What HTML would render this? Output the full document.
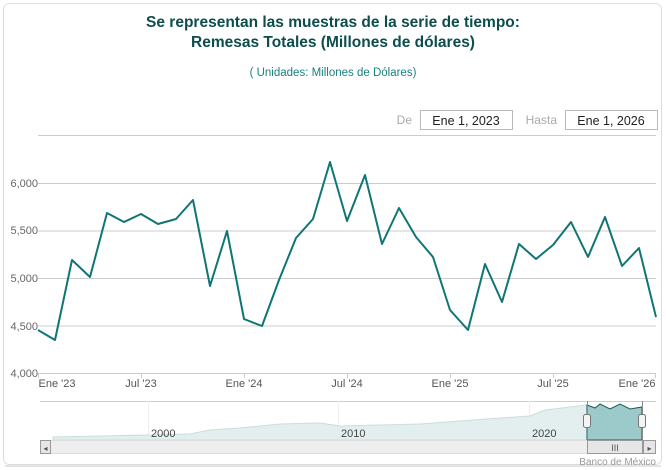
<!DOCTYPE html>
<html><head><meta charset="utf-8"><style>
body{margin:0;background:#fff;}
svg{display:block;font-family:"Liberation Sans","DejaVu Sans",sans-serif;}
</style></head><body>
<svg width="666" height="470" viewBox="0 0 666 470">
<rect x="3.5" y="3.5" width="658" height="461" rx="6" fill="#fff" stroke="#ddd"/>
<rect x="5" y="465" width="656" height="2" fill="#e4e4e4"/>
<text x="333" y="27" text-anchor="middle" font-size="15.5" font-weight="bold" fill="#0d4d4d">Se representan las muestras de la serie de tiempo:</text>
<text x="333" y="47" text-anchor="middle" font-size="15.5" font-weight="bold" fill="#0d4d4d">Remesas Totales (Millones de dólares)</text>
<text x="333" y="76" text-anchor="middle" font-size="11.5" fill="#1a8080">( Unidades:  Millones de Dólares)</text>
<text x="412" y="124" text-anchor="end" font-size="12" fill="#aaa">De</text>
<rect x="420.5" y="110.5" width="92" height="19" fill="#fff" stroke="#bbb"/>
<text x="466" y="125" text-anchor="middle" font-size="12.5" fill="#222">Ene 1, 2023</text>
<text x="557" y="124" text-anchor="end" font-size="12" fill="#aaa">Hasta</text>
<rect x="565.5" y="110.5" width="92" height="19" fill="#fff" stroke="#bbb"/>
<text x="611" y="125" text-anchor="middle" font-size="12.5" fill="#222">Ene 1, 2026</text>
<g stroke="#ccc" stroke-width="1">
<line x1="38" y1="135.5" x2="656" y2="135.5"/>
<line x1="38" y1="183.5" x2="656" y2="183.5"/>
<line x1="38" y1="231" x2="656" y2="231"/>
<line x1="38" y1="278.5" x2="656" y2="278.5"/>
<line x1="38" y1="326" x2="656" y2="326"/>
<line x1="38" y1="373.5" x2="656" y2="373.5" stroke="#c0d0e0"/>
</g>
<g font-size="11" fill="#666" text-anchor="end">
<text x="38" y="187">6,000</text><text x="38" y="234">5,500</text><text x="38" y="282">5,000</text><text x="38" y="330">4,500</text><text x="38" y="377">4,000</text>
</g>
<g stroke="#c0d0e0"><line x1="38.5" y1="373" x2="38.5" y2="378"/><line x1="141.5" y1="373" x2="141.5" y2="378"/><line x1="244.5" y1="373" x2="244.5" y2="378"/><line x1="347.5" y1="373" x2="347.5" y2="378"/><line x1="450.5" y1="373" x2="450.5" y2="378"/><line x1="553.5" y1="373" x2="553.5" y2="378"/><line x1="655.5" y1="373" x2="655.5" y2="378"/></g>
<g font-size="11" fill="#555" text-anchor="middle">
<text x="57" y="387">Ene '23</text><text x="141" y="387">Jul '23</text><text x="244" y="387">Ene '24</text><text x="347" y="387">Jul '24</text><text x="450" y="387">Ene '25</text><text x="553" y="387">Jul '25</text><text x="637" y="387">Ene '26</text>
</g>
<polyline fill="none" stroke="#0f7575" stroke-width="2" stroke-linejoin="round" points="38,330 55,340 72,260 90,277 107,213 124,222 141,214 158,224 176,219 193,200 210,286 227,231 244,319 262,326 279,280 296,238 313,219 330,162 347,221 365,175 382,244 399,208 416,237 433,257 450,310 468,330 485,264 502,302 519,244 536,259 553,245 571,222 588,257 605,217 622,266 639,248 656,317"/>
<!-- navigator -->
<rect x="40" y="401" width="616" height="39" fill="#fff"/>
<line x1="40" y1="401.5" x2="656" y2="401.5" stroke="#ccc"/>
<g stroke="#eee"><line x1="148.5" y1="401" x2="148.5" y2="440"/><line x1="338.5" y1="401" x2="338.5" y2="440"/><line x1="529.5" y1="401" x2="529.5" y2="440"/></g>
<path d="M53,437 L100,436 L148,435 L190,434 L210,430 L240,428 L280,424 L320,423 L340,426 L380,425 L420,424 L460,421 L500,418 L530,416 L545,410 L570,407 L587,405 L587,440 L53,440 Z" fill="#e3efef" stroke="#c8dede"/>
<path d="M587,405 L595,408 L600,404 L610,409 L620,404 L630,409 L642,407 L642,440 L587,440 Z" fill="#9cc9c9" stroke="#1a5a5a"/>
<g font-size="11" fill="#444"><text x="151" y="437">2000</text><text x="341" y="437">2010</text><text x="532" y="437">2020</text></g>
<line x1="587.5" y1="401" x2="587.5" y2="440" stroke="#888"/><line x1="642.5" y1="401" x2="642.5" y2="440" stroke="#888"/>
<rect x="583.5" y="414.5" width="7" height="13" rx="2" fill="#f4f4f4" stroke="#777"/>
<rect x="638.5" y="414.5" width="7" height="13" rx="2" fill="#f4f4f4" stroke="#777"/>
<rect x="40.5" y="440.5" width="615" height="13" fill="#eee" stroke="#ddd"/>
<rect x="40.5" y="440.5" width="10" height="13" fill="#e6e6e6" stroke="#999"/>
<text x="45.5" y="451" font-size="8" text-anchor="middle" fill="#555">◂</text>
<rect x="587.5" y="440.5" width="55" height="13" fill="#e6e6e6" stroke="#999"/>
<text x="615" y="451" font-size="9" text-anchor="middle" fill="#555">III</text>
<rect x="643.5" y="440.5" width="12" height="13" fill="#e6e6e6" stroke="#999"/>
<text x="649.5" y="451" font-size="8" text-anchor="middle" fill="#555">▸</text>
<text x="656" y="465" text-anchor="end" font-size="10" fill="#999">Banco de México</text>
</svg>
</body></html>
